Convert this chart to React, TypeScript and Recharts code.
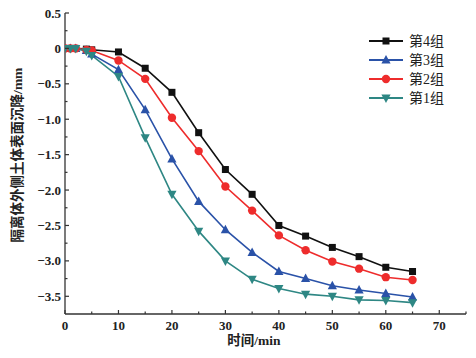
import React from 'react';
import { LineChart, Line, XAxis, YAxis } from 'recharts';

const times = [0, 1, 2, 4, 5, 10, 15, 20, 25, 30, 35, 40, 45, 50, 55, 60, 65];
const group4 = [0, 0, 0, -0.01, -0.02, -0.05, -0.28, -0.62, -1.19, -1.71, -2.06, -2.5, -2.65, -2.81, -2.94, -3.09, -3.15];
const group3 = [0, 0, 0, -0.03, -0.08, -0.3, -0.865, -1.56, -2.16, -2.56, -2.88, -3.15, -3.25, -3.35, -3.41, -3.46, -3.51];
const group2 = [0, 0, 0, -0.02, -0.03, -0.17, -0.43, -0.98, -1.45, -1.95, -2.29, -2.64, -2.85, -3.01, -3.11, -3.23, -3.27];
const group1 = [0, 0, 0, -0.04, -0.1, -0.395, -1.26, -2.06, -2.58, -3.0, -3.26, -3.39, -3.47, -3.5, -3.55, -3.56, -3.59];

const xTicks = [0, 5, 10, 15, 20, 25, 30, 35, 40, 45, 50, 55, 60, 65, 70, 75];
const yTicks = [0.5, 0.25, 0, -0.25, -0.5, -0.75, -1, -1.25, -1.5, -1.75, -2, -2.25, -2.5, -2.75, -3, -3.25, -3.5];

const seriesNames = ['第4组', '第3组', '第2组', '第1组'];
const colors = ['#111111', '#2a52a8', '#ee2c2c', '#2e8784'];
const shapes = ['square', 'triangle', 'circle', 'triangleDown'];

const data = times.map((t, i) => ({
  t,
  g4: group4[i],
  g3: group3[i],
  g2: group2[i],
  g1: group1[i],
}));

const FONT = '"Liberation Serif", "Noto Sans CJK SC", serif';
const AXIS_COLOR = '#333';

function Marker({ shape, cx, cy, color }: { shape: string; cx: number; cy: number; color: string }) {
  if (cx == null || cy == null) return null;
  if (shape === 'square') {
    return <rect x={cx - 3.5} y={cy - 3.5} width={7} height={7} fill={color} />;
  }
  if (shape === 'circle') {
    return <circle cx={cx} cy={cy} r={4.2} fill={color} />;
  }
  if (shape === 'triangle') {
    return <polygon points={`${cx},${cy - 5} ${cx - 4.6},${cy + 3.5} ${cx + 4.6},${cy + 3.5}`} fill={color} />;
  }
  return <polygon points={`${cx},${cy + 5} ${cx - 4.6},${cy - 3.5} ${cx + 4.6},${cy - 3.5}`} fill={color} />;
}

const makeDot = (shape: string, color: string) => (props: any) => (
  <Marker key={`${shape}-${props.index}`} shape={shape} cx={props.cx} cy={props.cy} color={color} />
);

function XTick(props: any) {
  const { x, y, payload } = props;
  const v = payload.value;
  const major = v % 10 === 0;
  return (
    <g>
      <line x1={x} x2={x} y1={y} y2={y - (major ? 4 : 2.5)} stroke={AXIS_COLOR} strokeWidth={1.2} />
      {major && (
        <text x={x} y={y + 16} textAnchor="middle" fontFamily={FONT} fontWeight="bold" fontSize={13} fill="#222">
          {v}
        </text>
      )}
    </g>
  );
}

function YTick(props: any) {
  const { x, y, payload } = props;
  const v = payload.value;
  const major = Math.abs(Math.round(v * 2) - v * 2) < 1e-6;
  const label = v === 0 ? '0' : v.toFixed(1).replace('-', '\u2212');
  return (
    <g>
      <line x1={x} x2={x + (major ? 4 : 2.5)} y1={y} y2={y} stroke={AXIS_COLOR} strokeWidth={1.2} />
      {major && (
        <text x={x - 4} y={y + 4.5} textAnchor="end" fontFamily={FONT} fontWeight="bold" fontSize={13} fill="#222">
          {label}
        </text>
      )}
    </g>
  );
}

function LegendSvg() {
  const x0 = 369;
  const y0 = 41;
  const gap = 19;
  return (
    <g>
      {seriesNames.map((n, i) => {
        const y = y0 + i * gap;
        return (
          <g key={n}>
            <line x1={x0} x2={x0 + 34} y1={y} y2={y} stroke={colors[i]} strokeWidth={1.8} />
            <Marker shape={shapes[i]} cx={x0 + 17} cy={y} color={colors[i]} />
            <text x={x0 + 40} y={y + 5} fontFamily={FONT} fontSize={14} fill="#222">
              {n}
            </text>
          </g>
        );
      })}
    </g>
  );
}

export default function App() {
  const keys = ['g4', 'g3', 'g2', 'g1'];
  return (
    <div style={{ position: 'absolute', left: 0, top: 0, width: 476, height: 358, background: '#fff' }}>
      <LineChart width={476} height={358} data={data} margin={{ top: 13, right: 10, left: 0, bottom: 0 }}>
        <XAxis
          dataKey="t"
          type="number"
          domain={[0, 75]}
          ticks={xTicks}
          interval={0}
          tickSize={0}
          tickMargin={0}
          tickLine={false}
          tick={<XTick />}
          height={44}
          stroke={AXIS_COLOR}
          strokeWidth={1.3}
          allowDataOverflow
        />
        <YAxis
          type="number"
          domain={[-3.75, 0.5]}
          ticks={yTicks}
          interval={0}
          tickSize={0}
          tickMargin={0}
          tickLine={false}
          tick={<YTick />}
          width={65}
          stroke={AXIS_COLOR}
          strokeWidth={1.3}
          allowDataOverflow
        />
        {keys.map((k, i) => (
          <Line
            key={k}
            dataKey={k}
            name={seriesNames[i]}
            stroke={colors[i]}
            strokeWidth={1.6}
            dot={makeDot(shapes[i], colors[i])}
            activeDot={false}
            isAnimationActive={false}
          />
        ))}
        <LegendSvg />
        <text
          x={254}
          y={345}
          textAnchor="middle"
          fontFamily={FONT}
          fontWeight="bold"
          fontSize={13.5}
          fill="#222"
        >
          时间/min
        </text>
        <text
          transform="translate(22,155) rotate(-90)"
          textAnchor="middle"
          fontFamily={FONT}
          fontWeight="bold"
          fontSize={13.5}
          fill="#222"
        >
          隔离体外侧土体表面沉降/mm
        </text>
      </LineChart>
    </div>
  );
}
